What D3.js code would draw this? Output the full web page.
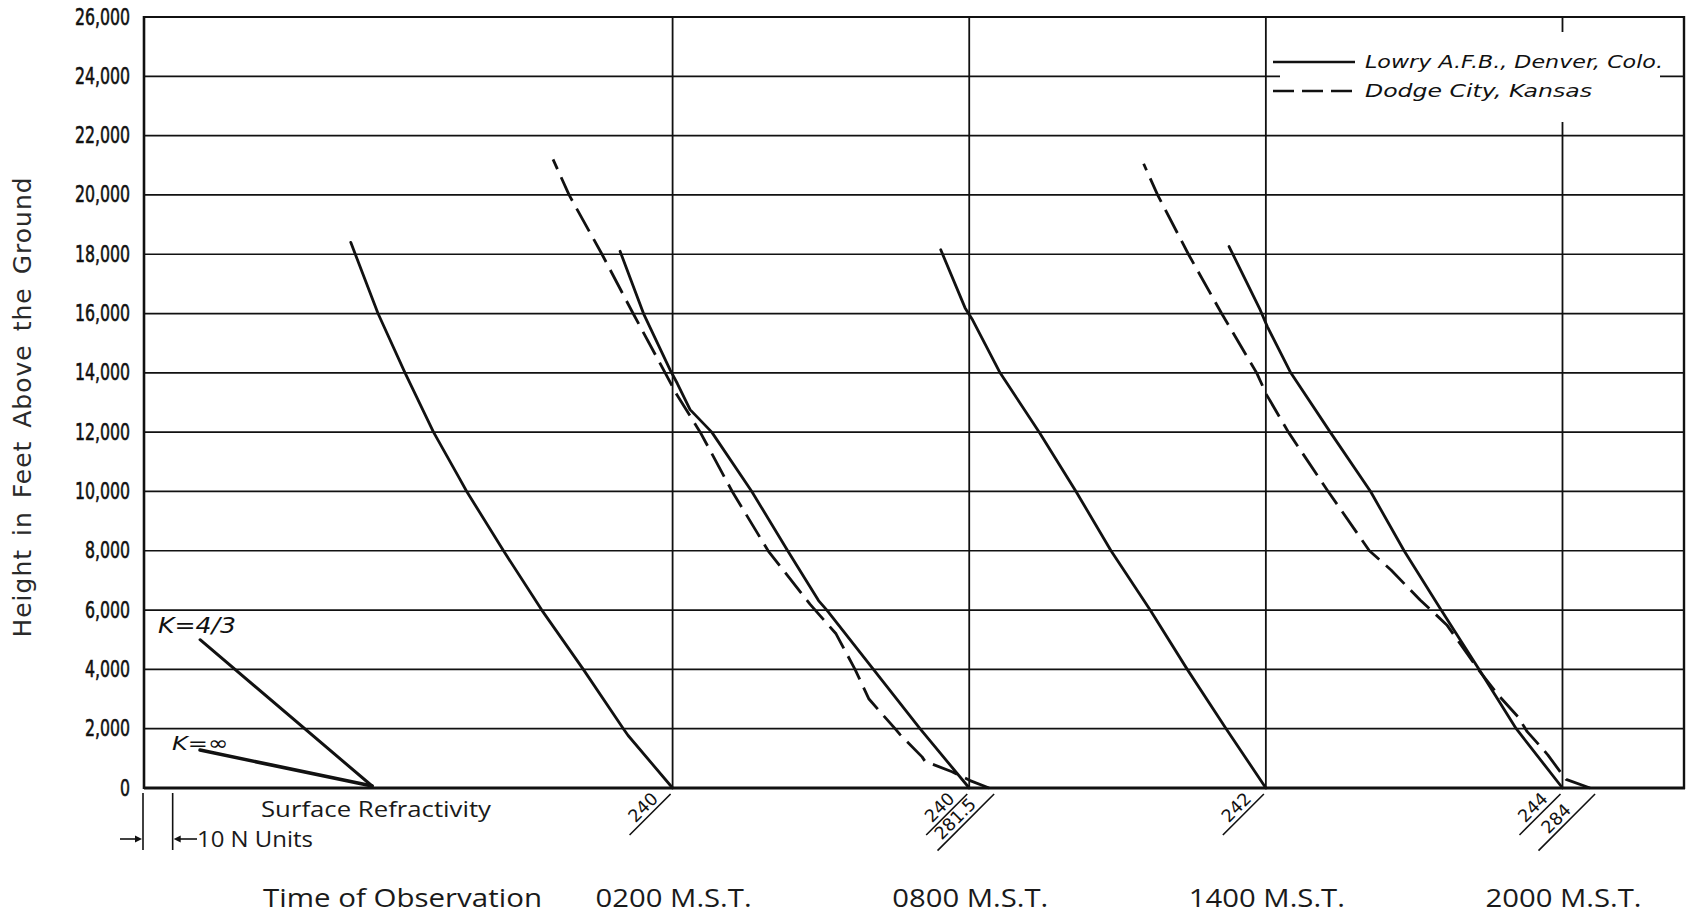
<!DOCTYPE html>
<html>
<head>
<meta charset="utf-8">
<script src="https://cdn.jsdelivr.net/npm/d3@7"></script>
<style>
  html, body { margin: 0; padding: 0; background: #fff; }
  svg { display: block; }
</style>
</head>
<body>
<svg id="chart" width="1692" height="916"></svg>
<script>
// ---- Data -------------------------------------------------------------
// Observation times and surface refractivity (N units) for each sounding
const times = ["0200", "0800", "1400", "2000"];
const denverSurface = [240, 240, 242, 244];
const dodgeSurface = [null, 281.5, null, 284];

// Height ticks (feet above the ground)
const heightTicks = d3.range(0, 26001, 2000);

// Refractivity profiles: [height in feet, N]
const denver0200 = [[0, 240], [1770, 225.0], [2000, 223.4], [4000, 209.9], [6000, 195.9], [8000, 183.0],
  [10000, 170.6], [10450, 168.1], [12000, 159.4], [14000, 149.8], [16000, 140.7], [18400, 131.5]];
const denver0800 = [[0, 240], [2000, 223.4], [4000, 207.7], [6000, 192.0], [6320, 189.2], [8000, 178.8],
  [10000, 166.7], [12000, 153.2], [12760, 145.9], [13640, 141.6], [14090, 139.2], [16000, 130.2], [18100, 122.3]];
const denver1400 = [[0, 242], [2000, 228.6], [4000, 215.5], [6000, 203.0], [8000, 189.8], [10000, 178.0],
  [12000, 165.6], [14000, 152.4], [15770, 143.2], [16190, 140.6], [18150, 132.4]];
const denver2000 = [[0, 244], [2000, 228.4], [4000, 215.9], [6000, 203.1], [8000, 190.6], [10000, 179.3],
  [12000, 165.7], [14000, 152.4], [15560, 144.5], [16120, 142.1], [18260, 131.6]];

const dodge0800 = [[0, 281.5], [250, 275.1], [550, 269.0], [900, 259.9], [1050, 258.9], [1800, 251.5],
  [2000, 249.8], [3000, 241.0], [4000, 236.3], [5200, 229.9], [6200, 221.1], [8000, 207.0], [10000, 194.9],
  [12000, 184.1], [13250, 176.3], [14000, 172.3], [16000, 161.5], [18000, 151.0], [20000, 139.9], [21200, 134.5]];
const dodge2000 = [[0, 284], [290, 275.9], [550, 273.9], [1110, 269.8], [1340, 267.8], [1900, 262.8],
  [2400, 259.7], [3140, 253.0], [4000, 246.3], [5500, 235.7], [6000, 230.4], [6340, 226.7], [7350, 216.9],
  [8000, 209.6], [10000, 195.7], [12000, 182.3], [13250, 175.0], [14000, 171.6], [16000, 159.8],
  [18000, 148.6], [20000, 138.2], [21050, 133.5]];

const denverProfiles = [denver0200, denver0800, denver1400, denver2000];
const dodgeProfiles = [null, dodge0800, null, dodge2000];

// Reference gradients (effective earth radius factor K)
const kNames = ["K=4/3", "K=\u221E"];
const kTopHeights = [5000, 1280];
const kDrops = [58, 58];

const legendNames = ["Lowry A.F.B., Denver, Colo.", "Dodge City, Kansas"];

// ---- Layout -----------------------------------------------------------
const svg = d3.select("#chart");
const ink = "#111";

// Horizontal axis in N units, measured from the 0200 surface line;
// each observation time is set 100 N units to the right of the previous.
const x = d3.scaleLinear().domain([-178.2, 341.3]).range([144, 1685]);
const y = d3.scaleLinear().domain([0, 26000]).range([788, 17]);
const panelStep = 100;
const dodgeShift = [0, 6.7, 0, 9.3];   // Dodge City curves drawn just right of the Denver surface line
const kOrigin = -101.3;

const [xL, xR] = x.range();

// Horizontal grid
svg.append("g").selectAll("line")
  .data(heightTicks.filter(d => d > 0 && d < 26000))
  .join("line")
  .attr("x1", xL).attr("x2", xR)
  .attr("y1", d => y(d)).attr("y2", d => y(d))
  .attr("stroke", ink).attr("stroke-width", 1.7);

// Vertical line at each observation time
svg.append("g").selectAll("line")
  .data(times)
  .join("line")
  .attr("x1", (d, i) => x(i * panelStep)).attr("x2", (d, i) => x(i * panelStep))
  .attr("y1", y(26000)).attr("y2", y(0))
  .attr("stroke", ink).attr("stroke-width", 1.8);

// Legend area is kept clear of grid lines
svg.append("rect").attr("x", 1280).attr("y", 32).attr("width", 380).attr("height", 90).attr("fill", "#fff");

// Frame
svg.append("line").attr("x1", xL).attr("x2", xR).attr("y1", y(26000)).attr("y2", y(26000))
  .attr("stroke", ink).attr("stroke-width", 2.2);
svg.append("line").attr("x1", xL).attr("x2", xR).attr("y1", y(0)).attr("y2", y(0))
  .attr("stroke", ink).attr("stroke-width", 3);
svg.append("line").attr("x1", xL).attr("x2", xL).attr("y1", y(26000) - 1).attr("y2", y(0) + 1)
  .attr("stroke", ink).attr("stroke-width", 2.6);
svg.append("line").attr("x1", xR - 1).attr("x2", xR - 1).attr("y1", y(26000) - 1).attr("y2", y(0) + 1)
  .attr("stroke", ink).attr("stroke-width", 2.4);

// Height tick labels (narrow lettering)
svg.append("g").selectAll("text")
  .data(heightTicks)
  .join("text")
  .attr("transform", d => `translate(130,${y(d) + 7.5}) scale(0.70,1)`)
  .attr("text-anchor", "end")
  .attr("font-family", "DejaVu Sans, sans-serif")
  .attr("font-size", 22.5)
  .attr("fill", ink).attr("stroke", ink).attr("stroke-width", 0.6)
  .text(d => d3.format(",")(d));

// Vertical axis title
svg.append("text")
  .attr("transform", `translate(31,407) rotate(-90)`)
  .attr("text-anchor", "middle")
  .attr("font-family", "DejaVu Sans, sans-serif")
  .attr("font-size", 25)
  .attr("fill", "#2a2a2a")
  .attr("letter-spacing", 1).attr("word-spacing", 4)
  .text("Height in Feet Above the Ground");

// ---- Profiles ---------------------------------------------------------
const line = d3.line().x(d => d[0]).y(d => d[1]);

const curves = svg.append("g")
  .attr("fill", "none").attr("stroke", ink)
  .attr("stroke-width", 2.8).attr("stroke-linejoin", "round").attr("stroke-linecap", "round");

denverProfiles.forEach((prof, i) => {
  const pts = prof.map(([h, n]) => [x(i * panelStep + (n - denverSurface[i])), y(h)]);
  curves.append("path").attr("d", line(pts));
});

dodgeProfiles.forEach((prof, i) => {
  if (!prof) return;
  const pts = prof.map(([h, n]) => [x(i * panelStep + dodgeShift[i] + (n - dodgeSurface[i])), y(h)]);
  curves.append("path").attr("d", line(pts))
    .attr("stroke-dasharray", "26,9").attr("stroke-linecap", "butt");
});

// Reference gradients
kNames.forEach((name, i) => {
  const x0 = x(kOrigin - kDrops[i]), y0 = y(kTopHeights[i]);
  svg.append("line")
    .attr("x1", x0).attr("y1", y0)
    .attr("x2", x(kOrigin)).attr("y2", y(0) - 2)
    .attr("stroke", ink).attr("stroke-width", i === 0 ? 3 : 3.6).attr("stroke-linecap", "round");
});
svg.append("text").attr("x", 158).attr("y", 633)
  .attr("font-family", "DejaVu Sans, sans-serif").attr("font-style", "italic").attr("font-size", 21)
  .attr("fill", ink).attr("textLength", 78).attr("lengthAdjust", "spacingAndGlyphs")
  .text(kNames[0]);
svg.append("text").attr("x", 172).attr("y", 750)
  .attr("font-family", "DejaVu Sans, sans-serif").attr("font-style", "italic").attr("font-size", 20)
  .attr("fill", ink).attr("textLength", 56).attr("lengthAdjust", "spacingAndGlyphs")
  .text(kNames[1]);

// ---- Surface refractivity labels --------------------------------------
function surfaceLabel(x0, len, value, shift) {
  const g = svg.append("g").attr("transform", `translate(${x0},794) rotate(-45)`);
  g.append("line").attr("x1", 0).attr("y1", 0).attr("x2", -len).attr("y2", 0)
    .attr("stroke", ink).attr("stroke-width", 1.6);
  g.append("text").attr("x", -len / 2 - shift).attr("y", -4)
    .attr("text-anchor", "middle")
    .attr("font-family", "DejaVu Sans, sans-serif").attr("font-size", 17.5)
    .attr("fill", ink)
    .text(value);
}
times.forEach((t, i) => {
  surfaceLabel(x(i * panelStep) - 2, 58, denverSurface[i], 0);
  if (dodgeSurface[i] != null) {
    surfaceLabel(x(i * panelStep + dodgeShift[i]) + 5, 80, dodgeSurface[i], 5);
  }
});

// ---- Bottom annotations -----------------------------------------------
const labelFont = "Open Sans, Lato, sans-serif";

svg.append("text").attr("x", 261).attr("y", 817)
  .attr("font-family", labelFont).attr("font-size", 21).attr("fill", "#1a1a1a")
  .attr("textLength", 230).attr("lengthAdjust", "spacingAndGlyphs")
  .text("Surface Refractivity");

// Scale bar: 10 N units
const barA = x(x.domain()[0]) - 1, barB = x(x.domain()[0] + 10) - 1;
[barA, barB].forEach(bx => {
  svg.append("line").attr("x1", bx).attr("x2", bx).attr("y1", 793).attr("y2", 850)
    .attr("stroke", ink).attr("stroke-width", 1.6);
});
svg.append("line").attr("x1", 120).attr("x2", barA - 4).attr("y1", 839).attr("y2", 839)
  .attr("stroke", ink).attr("stroke-width", 1.6);
svg.append("path").attr("d", `M${barA - 1},839 L${barA - 8},835.5 L${barA - 8},842.5 Z`).attr("fill", ink);
svg.append("line").attr("x1", barB + 4).attr("x2", 197).attr("y1", 839).attr("y2", 839)
  .attr("stroke", ink).attr("stroke-width", 1.6);
svg.append("path").attr("d", `M${barB + 1},839 L${barB + 8},835.5 L${barB + 8},842.5 Z`).attr("fill", ink);
svg.append("text").attr("x", 197).attr("y", 847)
  .attr("font-family", labelFont).attr("font-size", 21).attr("fill", "#1a1a1a")
  .attr("textLength", 116).attr("lengthAdjust", "spacingAndGlyphs")
  .text("10 N Units");

svg.append("text").attr("x", 263).attr("y", 907)
  .attr("font-family", labelFont).attr("font-size", 26).attr("fill", "#1a1a1a")
  .attr("textLength", 279).attr("lengthAdjust", "spacingAndGlyphs")
  .text("Time of Observation");

svg.append("g").selectAll("text")
  .data(times)
  .join("text")
  .attr("x", (d, i) => x(i * panelStep) + 1).attr("y", 907)
  .attr("text-anchor", "middle")
  .attr("font-family", labelFont).attr("font-size", 26).attr("fill", "#1a1a1a")
  .attr("textLength", 156).attr("lengthAdjust", "spacingAndGlyphs")
  .text(d => `${d} M.S.T.`);

// ---- Legend -----------------------------------------------------------
const legend = svg.append("g");
legendNames.forEach((name, i) => {
  const ly = 62 + i * 29;
  legend.append("line").attr("x1", 1273).attr("x2", 1355).attr("y1", ly).attr("y2", ly)
    .attr("stroke", ink).attr("stroke-width", 2.6)
    .attr("stroke-dasharray", i === 1 ? "21,8" : null);
  legend.append("text").attr("x", 1365).attr("y", ly + 6)
    .attr("font-family", "DejaVu Sans, sans-serif").attr("font-style", "italic").attr("font-size", 18)
    .attr("fill", ink)
    .attr("textLength", i === 0 ? 298 : 227).attr("lengthAdjust", "spacingAndGlyphs")
    .text(name);
});
</script>
</body>
</html>
